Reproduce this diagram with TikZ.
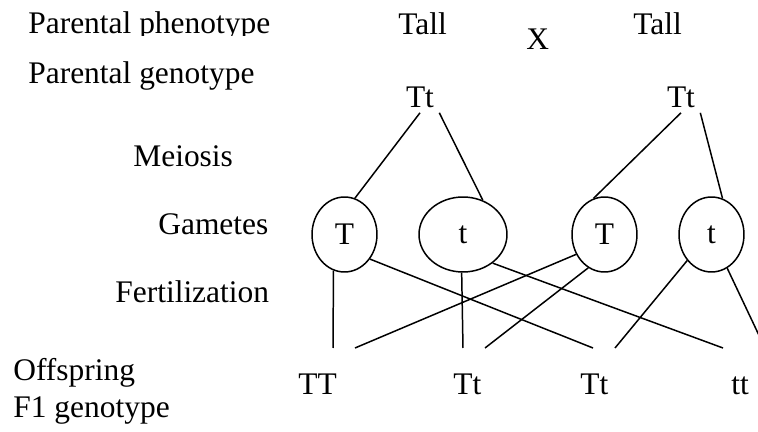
\documentclass[tikz,border=0pt]{standalone}
\usepackage{fontspec}
\setmainfont{Liberation Serif}
\usepackage{tikz}
\usetikzlibrary{shapes.geometric}
\begin{document}
\begin{tikzpicture}[x=0.02cm,y=-0.02cm,
		txt/.style={font=\fontsize{17.9}{21}\selectfont},
		lbl/.style={txt,anchor=base west,inner sep=0pt},
		geno/.style={txt,inner sep=0.1cm},
		gam/.style={txt,draw,ellipse,line width=0.85pt,inner sep=0pt,minimum width=1.3cm,minimum height=1.5cm},
		ln/.style={line width=0.85pt}]
		\useasboundingbox (0,0) rectangle (758,432);
		\begin{scope}
			\clip (0,0) rectangle (300,36);
			\node[lbl] (phen) at (28,34) {Parental phenotype};
		\end{scope}
		\node[lbl] (gen) at (28,84) {Parental genotype};
		\node[lbl] (mei) at (133,167) {Meiosis};
		\node[lbl] (gam) at (158,235) {Gametes};
		\node[lbl] (fert) at (115,303) {Fertilization};
		\node[lbl] (offs) at (13,381) {Offspring};
		\node[lbl] (fgen) at (13,418) {F1 genotype};
		\node[lbl] (tallL) at (398,35) {Tall};
		\node[lbl] (cross) at (526,50) {X};
		\node[lbl] (tallR) at (633,35) {Tall};
			\node[geno] (TtL) at (420,97) {Tt};
			\node[geno] (TtR) at (681,97) {Tt};
		\node[gam] (T1) at (344.5,234.5) {T};
		\node[gam,minimum width=1.76cm] (t1) at (463,234.5) {t};
		\node[gam] (T2) at (604.5,234.5) {T};
		\node[gam] (t2) at (711.5,234.5) {t};
		\node[lbl] (TT) at (298,395) {TT};
		\node[lbl] (Tt1) at (453,395) {Tt};
		\node[lbl] (Tt2) at (580,395) {Tt};
		\node[lbl] (tt) at (731,395) {tt};
		\coordinate (a1) at (333,348);
		\coordinate (a2) at (355,348);
		\coordinate (b1) at (463,348);
		\coordinate (b2) at (485,348);
		\coordinate (c1) at (593,348);
		\coordinate (c2) at (615,348);
		\coordinate (d1) at (723,348);
		\coordinate (d2) at (765,348);
			\draw[ln] (TtL.south) -- (T1.74);
			\draw[ln] (TtL.south east) -- (t1.60);
			\draw[ln] (TtR.south) -- (T2.107);
			\draw[ln] (TtR.south east) -- (t2.73);
		\draw[ln] (T1.-107) -- (a1);
		\draw[ln] (T1.-44) -- (c1);
		\draw[ln] (t1.-92) -- (b1);
		\draw[ln] (t1.-44) -- (d1);
		\draw[ln] (T2.-145) -- (a2);
		\draw[ln] (T2.-116) -- (b2);
		\draw[ln] (t2.-133) -- (c2);
		\draw[ln] (t2.-65) -- (d2);
	\end{tikzpicture}
\end{document}
